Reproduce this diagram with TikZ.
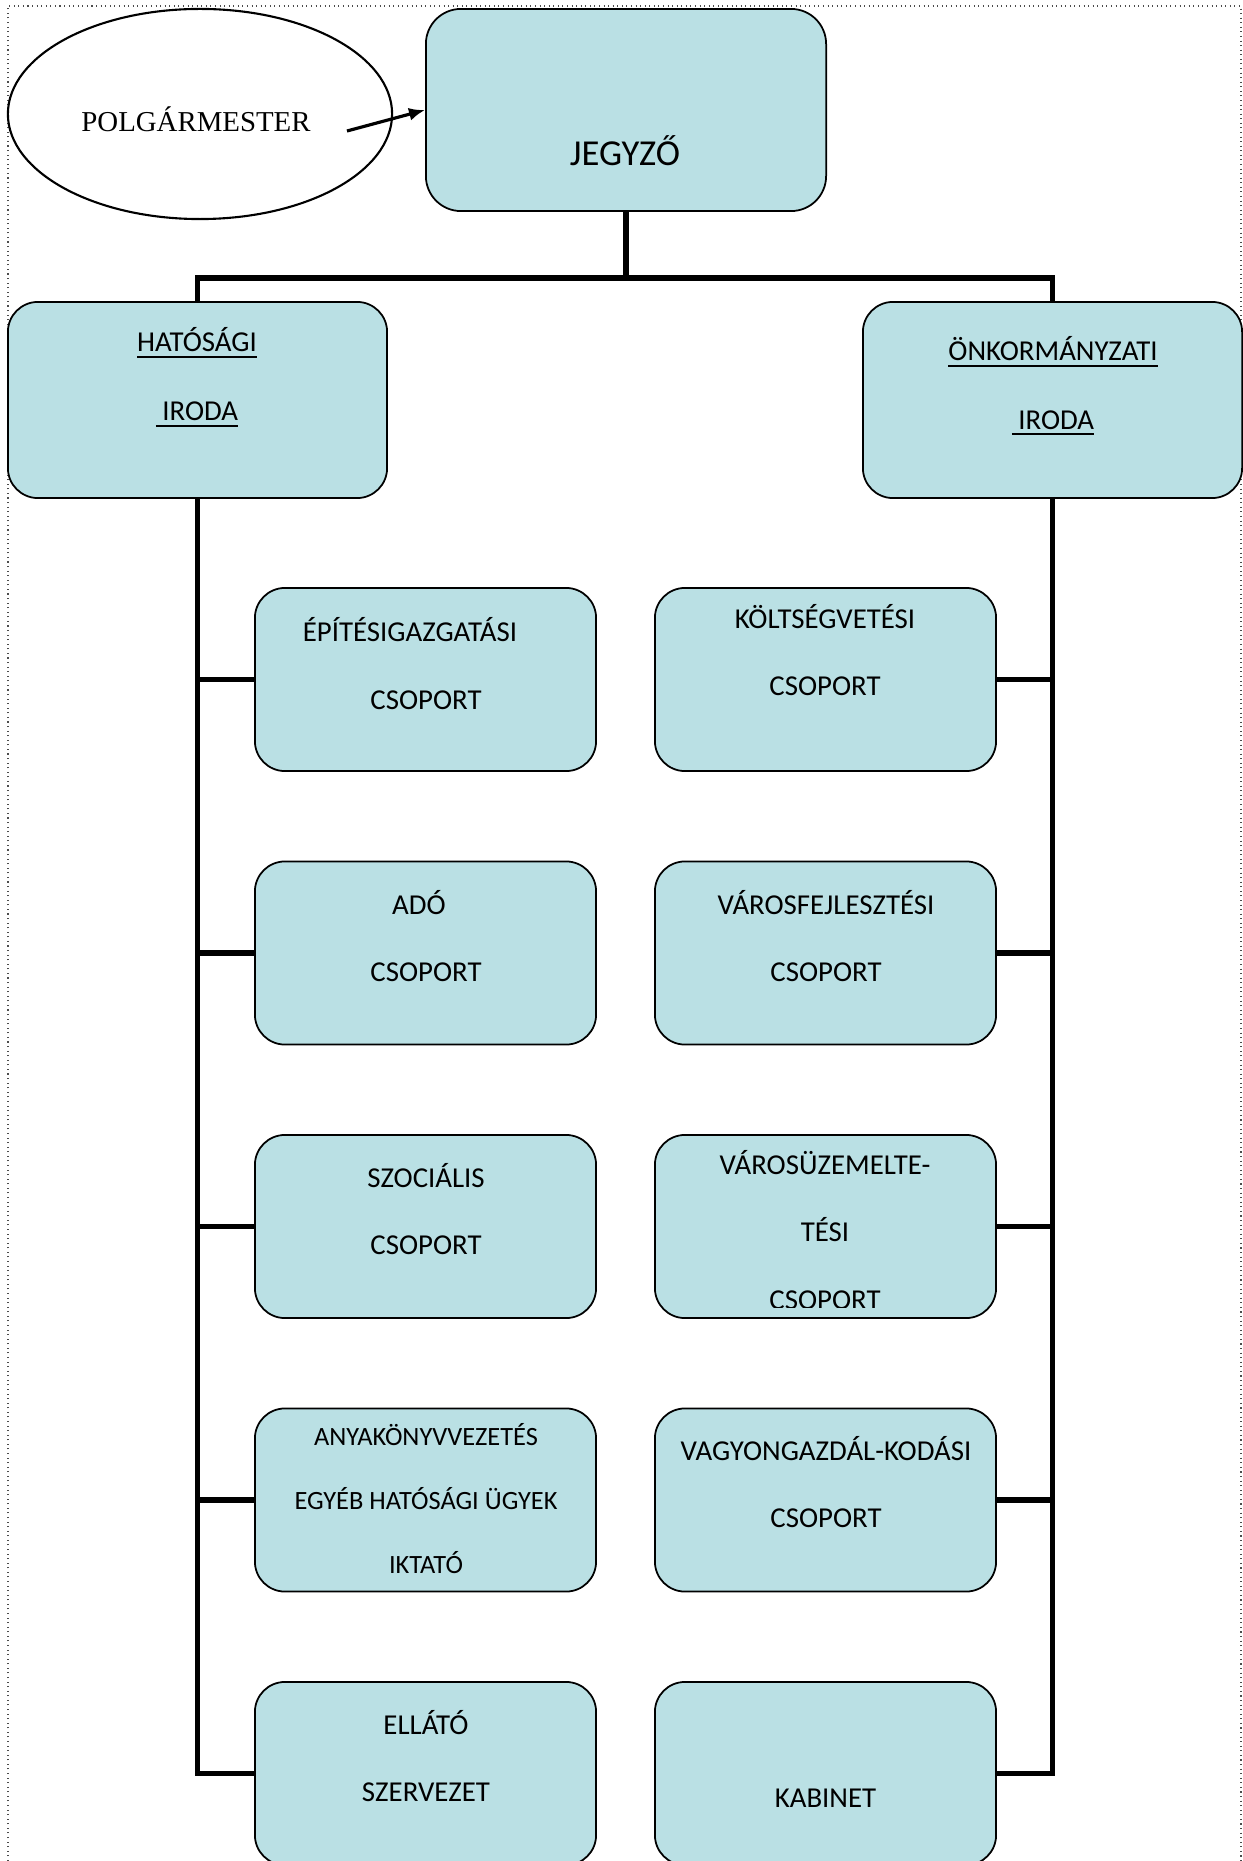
\documentclass[tikz,border=0pt]{standalone}
\usepackage{fontspec}
\setmainfont{Carlito}
\newfontfamily\polgfont{Liberation Serif}
\usetikzlibrary{shapes.geometric, arrows.meta}
\definecolor{boxfill}{RGB}{186,224,228}

\begin{document}
\begin{tikzpicture}[x=0.01cm, y=-0.01cm,
        box/.style={rectangle, draw, line width=0.5pt, fill=boxfill, inner sep=0pt},
        headbox/.style={box, rounded corners=0.35cm, minimum width=4.0cm, minimum height=2.02cm},
        officebox/.style={box, rounded corners=0.3cm, minimum width=3.79cm, minimum height=1.96cm},
        groupbox/.style={box, rounded corners=0.3cm, minimum width=3.41cm, minimum height=1.83cm},
        txt/.style={align=center, inner sep=0pt, font=\fontsize{8.2}{19.3}\selectfont},
        trunk/.style={line width=1.3pt},
        branch/.style={line width=1.6pt}]
        \useasboundingbox (0,0) rectangle (1243,1861);
        \clip (0,0) rectangle (1243,1861);
        \draw[densely dotted, line width=0.3pt, black!70] (8,1870) -- (8,6) -- (1241,6) -- (1241,1870);

        \node at (200,114) [ellipse, draw, line width=0.6pt, minimum width=3.84cm, minimum height=2.1cm, inner sep=0pt] (polg) {};
        \node at (196,119) [inner sep=0pt, font=\polgfont\fontsize{8.2}{10}\selectfont] (polg_txt) {POLGÁRMESTER};

        \node at (626,110) [headbox] (jegyzo) {};
        \node at (625,151) [txt, font=\fontsize{10.4}{12}\selectfont] (jegyzo_txt) {JEGYZŐ};

        \node at (197.5,400) [officebox] (hatosagi) {};
        \node at (197,378) [txt, font=\fontsize{8.2}{19.6}\selectfont] (hatosagi_txt) {\underline{HATÓSÁGI}\\\underline{\ IRODA}};
        \node at (1052.5,400) [officebox] (onkorm) {};
        \node at (1053,386.5) [txt, font=\fontsize{8.2}{19.4}\selectfont] (onkorm_txt) {\underline{ÖNKORMÁNYZATI}\\\underline{\ IRODA}};

        \node at (425.5,679.5) [groupbox] (epit) {};
        \node at (426,663.5) [txt] (epit_txt) {ÉPÍTÉSIGAZGATÁSI\hspace*{0.32cm}\\CSOPORT};
        \node at (425.5,953) [groupbox] (ado) {};
        \node at (426,936) [txt] (ado_txt) {ADÓ\hspace*{0.14cm}\\CSOPORT};
        \node at (425.5,1226.5) [groupbox] (szoc) {};
        \node at (426,1209) [txt] (szoc_txt) {SZOCIÁLIS\\CSOPORT};
        \node at (425.5,1500) [groupbox] (anyak) {};
        \node at (426,1498.5) [txt, font=\fontsize{7.5}{18.1}\selectfont] (anyak_txt) {ANYAKÖNYVVEZETÉS\\EGYÉB HATÓSÁGI ÜGYEK\\IKTATÓ};
        \node at (425.5,1773.5) [groupbox] (ellato) {};
        \node at (426,1756) [txt] (ellato_txt) {ELLÁTÓ\\SZERVEZET};

        \node at (825.5,679.5) [groupbox] (koltseg) {};
        \node at (825,650) [txt] (koltseg_txt) {KÖLTSÉGVETÉSI\\CSOPORT};
        \node at (825.5,953) [groupbox] (varosfejl) {};
        \node at (826,936) [txt] (varosfejl_txt) {VÁROSFEJLESZTÉSI\\CSOPORT};
        \node at (825.5,1226.5) [groupbox] (varosuz) {};
        \begin{scope}
            \clip (655,1135) rectangle (996,1307);
            \node at (825,1230) [txt, font=\fontsize{8.2}{19.1}\selectfont] (varosuz_txt) {VÁROSÜZEMELTE-\\TÉSI\\CSOPORT};
        \end{scope}
        \node at (825.5,1500) [groupbox] (vagyon) {};
        \node at (826,1482) [txt] (vagyon_txt) {VAGYONGAZDÁL-KODÁSI\\CSOPORT};
        \node at (825.5,1773.5) [groupbox] (kabinet) {};
        \node at (825.5,1798) [txt] (kabinet_txt) {KABINET};

        \coordinate (split) at (626,278);
        \coordinate (polg_arrow) at (347,131);
        \draw[-{Latex[length=0.16cm, width=0.13cm]}, line width=0.9pt] (polg_arrow) -- (jegyzo.west);
        \draw[branch] (jegyzo.south) -- (split);
        \draw[branch] (hatosagi.north) |- (split) -| (onkorm.north);

        \draw[trunk] (hatosagi.south) |- (ellato.west);
        \draw[trunk] (onkorm.south) |- (kabinet.east);
        \draw[branch]
                (hatosagi.south |- epit.west)   edge (epit.west)
                (hatosagi.south |- ado.west)    edge (ado.west)
                (hatosagi.south |- szoc.west)   edge (szoc.west)
                (hatosagi.south |- anyak.west)  edge (anyak.west)
                (hatosagi.south |- ellato.west) edge (ellato.west)

                (onkorm.south |- koltseg.east)   edge (koltseg.east)
                (onkorm.south |- varosfejl.east) edge (varosfejl.east)
                (onkorm.south |- varosuz.east)   edge (varosuz.east)
                (onkorm.south |- vagyon.east)    edge (vagyon.east)
                (onkorm.south |- kabinet.east)   edge (kabinet.east)
            ;
    \end{tikzpicture}
\end{document}
